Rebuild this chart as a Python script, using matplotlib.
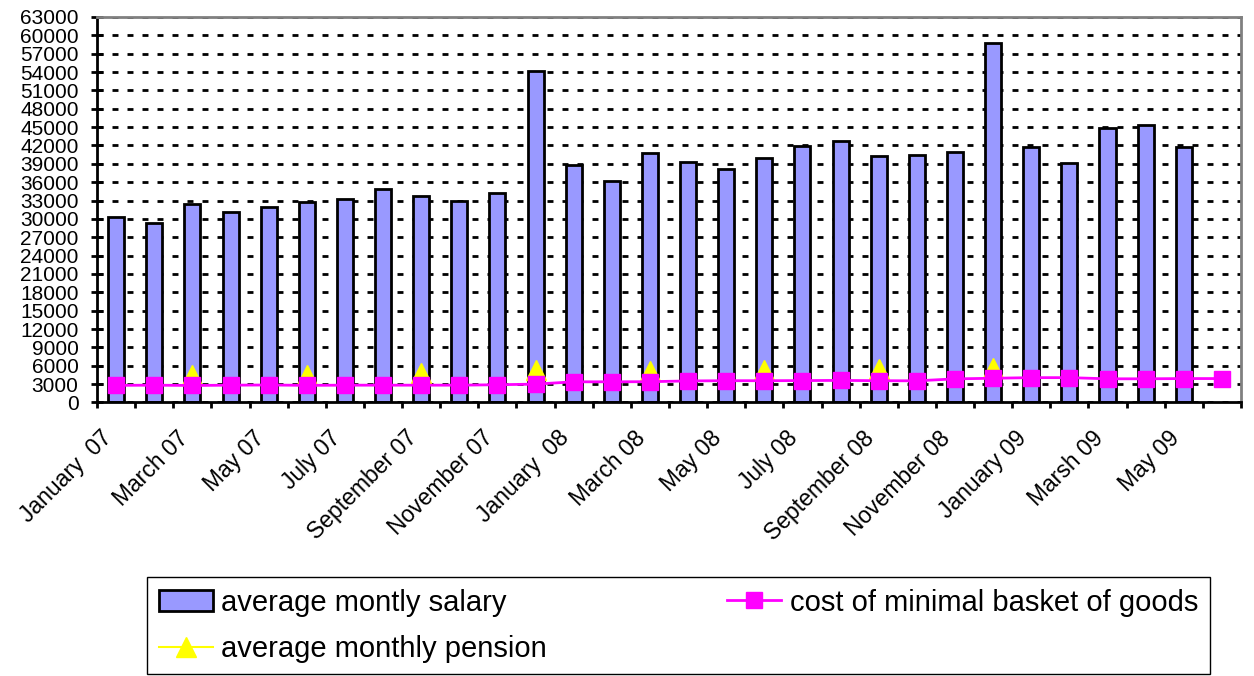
import numpy as np
from matplotlib import pyplot as plt
from matplotlib import transforms
from matplotlib.ticker import MultipleLocator, FixedLocator

plt.rcParams['font.family'] = ['Liberation Sans', 'DejaVu Sans']
plt.rcParams['lines.scale_dashes'] = False

months = ['January  07', 'February 07', 'March 07', 'April 07', 'May 07', 'June 07',
          'July 07', 'August 07', 'September 07', 'October 07', 'November 07', 'December 07',
          'January  08', 'February 08', 'March 08', 'April 08', 'May 08', 'June 08',
          'July 08', 'August 08', 'September 08', 'October 08', 'November 08', 'December 08',
          'January 09', 'February 09', 'Marsh 09', 'April 09', 'May 09', 'June 09']

salary = [30300, 29300, 32500, 31200, 32000, 32800, 33300, 34900, 33700, 32900,
          34200, 54100, 38800, 36200, 40700, 39300, 38200, 40000, 41900, 42700,
          40300, 40400, 40900, 58800, 41700, 39100, 44800, 45300, 41800, np.nan]

basket = [2800, 2830, 2780, 2830, 2860, 2800, 2830, 2830, 2830, 2830,
          2900, 3000, 3380, 3380, 3400, 3520, 3560, 3560, 3580, 3610,
          3560, 3540, 3860, 3960, 4060, 4060, 3870, 3870, 3910, 3910]

pension = [np.nan, np.nan, 4500, np.nan, np.nan, 4550, np.nan, np.nan, 4860, np.nan,
           np.nan, 5360, np.nan, np.nan, 5120, np.nan, np.nan, 5230, np.nan, np.nan,
           5480, np.nan, np.nan, 5590, np.nan, np.nan, np.nan, np.nan, np.nan, np.nan]

x = np.arange(len(months))

fig = plt.figure(figsize=(12.54, 6.76), dpi=100)
ax = fig.add_axes([0.0774, 0.4046, 0.9122, 0.5703])

ax.yaxis.grid(True, color='black', linewidth=2.0, dashes=(4.3, 6.5))
ax.set_axisbelow(True)

bars = ax.bar(x, salary, width=0.42, color='#9999FF', edgecolor='black', linewidth=2.0,
              label='average montly salary', zorder=2)
pl, = ax.plot(x, pension, color='#FFFF00', marker='^', markersize=15, linewidth=1.5,
              label='average monthly pension', zorder=3)
bl, = ax.plot(x, basket, color='#FF00FF', marker='s', markersize=11, linewidth=2.0,
              label='cost of minimal basket of goods', zorder=4)

ax.set_xlim(-0.5, len(months) - 0.5)
ax.set_ylim(0, 63000)
ax.yaxis.set_major_locator(MultipleLocator(3000))

ax.xaxis.set_major_locator(FixedLocator(x[::2]))
ax.set_xticklabels(months[::2], rotation=45, ha='right', va='top', rotation_mode='anchor')
ax.xaxis.set_minor_locator(FixedLocator(np.arange(-0.5, len(months), 1.0)))
ax.tick_params(axis='x', which='major', length=0, pad=0, labelsize=16.5)
ax.tick_params(axis='x', which='minor', length=4.5, width=2, direction='out')
ax.tick_params(axis='y', length=8.6, width=2, direction='inout', pad=9, labelsize=15)

# shift the rotated month labels down and to the left of their category
shift = transforms.ScaledTranslation(-0.16, -0.24, fig.dpi_scale_trans)
for lab in ax.get_xticklabels():
    lab.set_transform(lab.get_transform() + shift)

for s in ['left', 'bottom']:
    ax.spines[s].set_linewidth(2)
    ax.spines[s].set_color('black')
for s in ['top', 'right']:
    ax.spines[s].set_linewidth(2)
    ax.spines[s].set_color('#808080')

fig.legend(handles=[bars, pl, bl], loc='upper left', ncol=2, mode='expand',
           bbox_to_anchor=(0.1172, 0.003, 0.8477, 0.1434), fontsize=21,
           frameon=True, fancybox=False, edgecolor='black', framealpha=1,
           handlelength=1.85, handletextpad=0.3, borderpad=0.4, labelspacing=0.62,
           borderaxespad=0)

plt.savefig('out.png', dpi=100)
